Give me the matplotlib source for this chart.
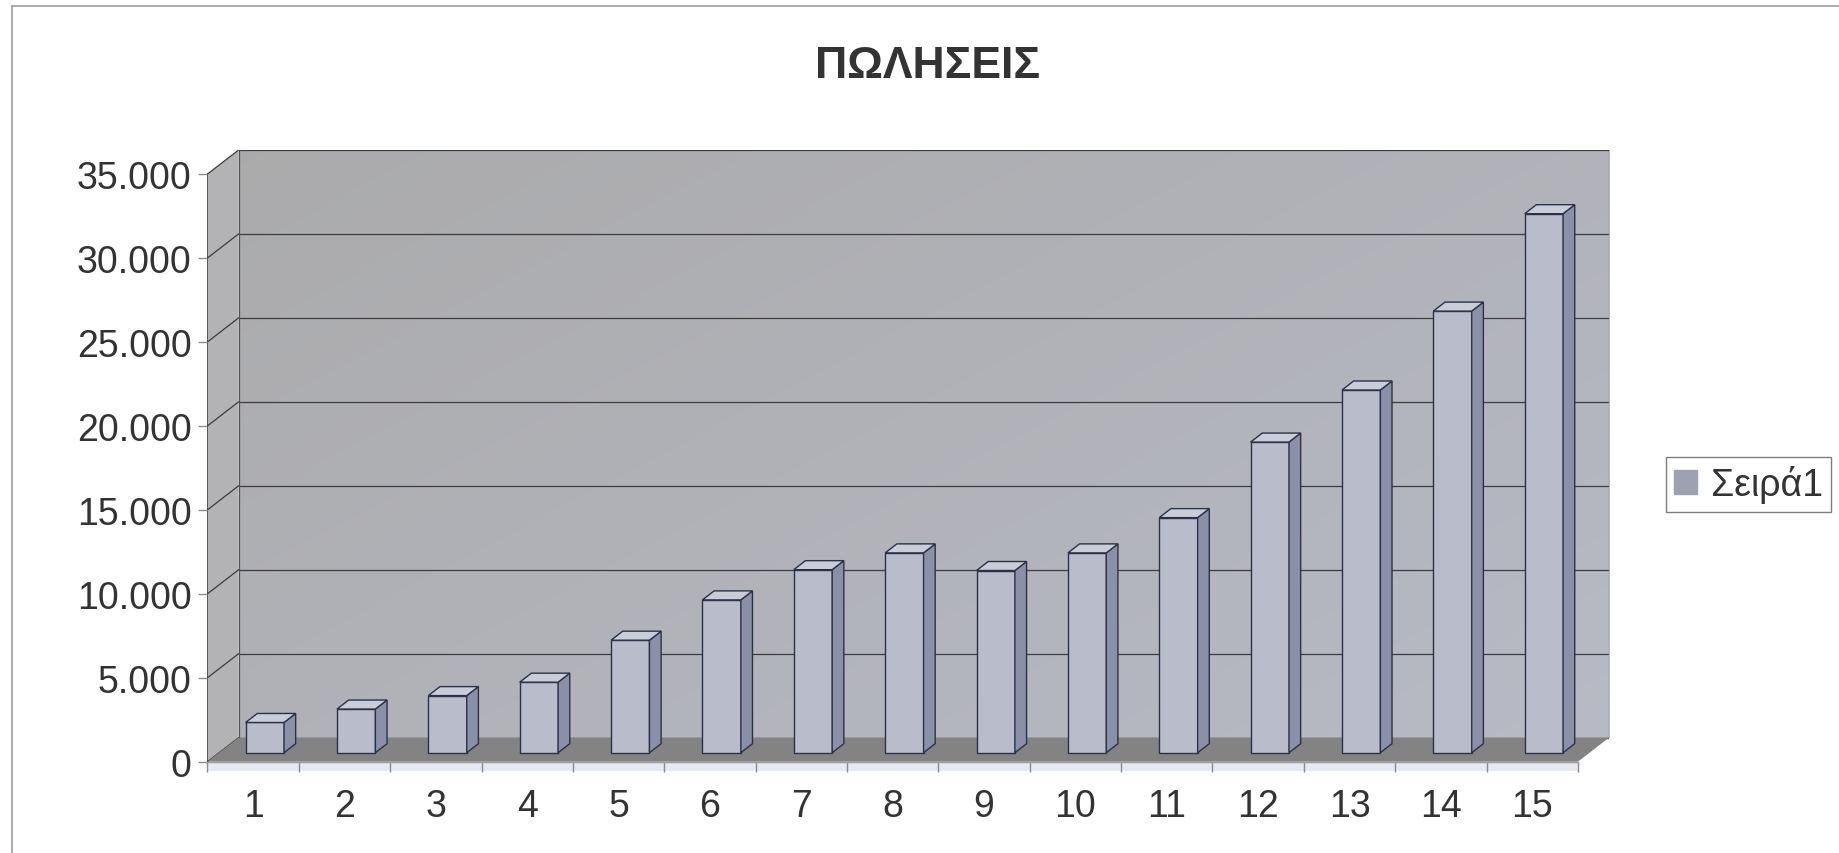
import numpy as np
import matplotlib
matplotlib.use("Agg")
import matplotlib.pyplot as plt
from matplotlib.patches import Polygon, Rectangle, Patch
from matplotlib.lines import Line2D
from matplotlib.ticker import FixedLocator, FuncFormatter, NullFormatter

# ---- data -------------------------------------------------------------
categories = [str(i) for i in range(1, 16)]
sales = [1800, 2600, 3400, 4200, 6700, 9100, 10900, 11900,
         10850, 11900, 14000, 18500, 21600, 26300, 32100]
y_ticks = [0, 5000, 10000, 15000, 20000, 25000, 30000, 35000]
title_text = "ΠΩΛΗΣΕΙΣ"
series_name = "Σειρά1"

# ---- figure -----------------------------------------------------------
W, H = 1840, 854
plt.rcParams["font.family"] = ["Liberation Sans", "DejaVu Sans"]
fig = plt.figure(figsize=(W / 100, H / 100), dpi=100)
fig.patch.set_facecolor("white")

TXT = "#333333"
FS = 27
n = len(categories)
y_max = y_ticks[-1]

# oblique depth of the 3-D box, in data units
DX = 0.34          # along the category axis
DY = 1430.0        # along the value axis
# bars occupy this slice of the depth
D0, D1 = 0.375, 0.75
BAR_W = 0.42

# axes box in pixels (front-left corner at value 0, back-right corner at top)
ax_l, ax_r = 207.5, 1609.0
ax_b, ax_t = 762.7, 151.0
ax = fig.add_axes([ax_l / W, 1 - ax_b / H, (ax_r - ax_l) / W, (ax_b - ax_t) / H])
ax.set_xlim(0, n + DX)
ax.set_ylim(0, y_max + DY)
ax.patch.set_alpha(0)
for s in ax.spines.values():
    s.set_visible(False)

# ---- walls and floor ---------------------------------------------------
# back wall with a soft grey -> blue-grey gradient
gx = np.linspace(0, 1, 200)
gy = np.linspace(0, 1, 200)
GX, GY = np.meshgrid(gx, gy)
t = np.clip(0.55 * GX + 0.45 * (1 - GY), 0, 1)[::-1]
c_top = np.array([0.670, 0.670, 0.675])
c_bot = np.array([0.720, 0.730, 0.772])
img = c_top[None, None, :] * (1 - t[..., None]) + c_bot[None, None, :] * t[..., None]
ax.imshow(img, extent=[DX, n + DX, DY, y_max + DY], origin="upper",
          aspect="auto", zorder=0, interpolation="bilinear")

# side wall
ax.add_patch(Polygon([(0, 0), (DX, DY), (DX, y_max + DY), (0, y_max)],
                     closed=True, facecolor="#b3b3b5", edgecolor="none", zorder=0.5))

# gridlines on back wall + connectors on side wall
for v in y_ticks:
    ax.plot([DX, n + DX], [v + DY, v + DY], color="#3c3c3c", lw=0.9, zorder=1)
    ax.plot([0, DX], [v, v + DY], color="#3c3c3c", lw=0.9, zorder=1)

# wall edges
ax.plot([DX, DX], [DY, y_max + DY], color="#505050", lw=0.9, zorder=1)
ax.plot([n + DX, n + DX], [DY, y_max + DY], color="#8c8c8c", lw=1.0, zorder=1)
ax.plot([0, 0], [0, y_max], color="#3c3c3c", lw=1.2, zorder=1)

# floor
ax.add_patch(Polygon([(0, 0), (n, 0), (n + DX, DY), (DX, DY)], closed=True,
                     facecolor="#838383", edgecolor="none", zorder=1.5))
# thin light strip under the floor edge
band = 9 / (ax_b - ax_t) * (y_max + DY)
ax.add_patch(Rectangle((0, -band), n, band, facecolor="#e6e9f0",
                       edgecolor="none", clip_on=False, zorder=1))
ax.plot([0, n], [0, 0], color="#9a9a9a", lw=1.0, zorder=1.6, clip_on=False)

# ---- bars ----------------------------------------------------------------
FRONT = "#b8bccb"
SIDE = "#8a90a8"
TOP = "#c9cdd9"
EDGE = "#2c3245"

centers = np.arange(n) + 0.5
x_front = centers + D0 * DX
base = D0 * DY
bars = ax.bar(x_front, sales, width=BAR_W, bottom=base, color=FRONT,
              edgecolor=EDGE, linewidth=1.0, zorder=3)
ddx = (D1 - D0) * DX
ddy = (D1 - D0) * DY
for rect, v in zip(bars, sales):
    x0 = rect.get_x()
    x1 = x0 + rect.get_width()
    top = base + v
    # right side face
    ax.add_patch(Polygon([(x1, base), (x1 + ddx, base + ddy),
                          (x1 + ddx, top + ddy), (x1, top)], closed=True,
                         facecolor=SIDE, edgecolor=EDGE, lw=1.0, zorder=3))
    # top face
    ax.add_patch(Polygon([(x0, top), (x1, top), (x1 + ddx, top + ddy),
                          (x0 + ddx, top + ddy)], closed=True,
                         facecolor=TOP, edgecolor=EDGE, lw=1.0, zorder=3))

# ---- axes ticks ------------------------------------------------------------
ax.yaxis.set_major_locator(FixedLocator(y_ticks))
ax.yaxis.set_major_formatter(FuncFormatter(lambda v, p: f"{v:,.0f}".replace(",", ".")))
ax.tick_params(axis="y", which="major", length=6.5, width=1.0, color="#8c8c8c",
               pad=5, labelsize=FS, labelcolor=TXT)

ax.xaxis.set_major_locator(FixedLocator(list(range(n + 1))))
ax.xaxis.set_major_formatter(NullFormatter())
ax.xaxis.set_minor_locator(FixedLocator(list(centers)))
ax.set_xticklabels(categories, minor=True)
ax.tick_params(axis="x", which="major", length=7, width=1.0, color="#8c8c8c")
ax.tick_params(axis="x", which="minor", length=0, pad=19, labelsize=FS,
               labelcolor=TXT)

# ---- title -----------------------------------------------------------------
fig.text(928 / W, 1 - 67 / H, title_text, ha="center", va="center",
         fontsize=32, fontweight="bold", color=TXT)

# ---- legend ----------------------------------------------------------------
leg = fig.legend(handles=[Patch(facecolor="#9da1b1", edgecolor="#9da1b1")],
                 labels=[series_name], loc="upper left",
                 bbox_to_anchor=(1666 / W, 1 - 458 / H),
                 bbox_transform=fig.transFigure, borderaxespad=0,
                 fontsize=FS, frameon=True, fancybox=False,
                 edgecolor="#7f7f7f", framealpha=1, borderpad=0.22,
                 handlelength=0.62, handleheight=0.62, handletextpad=0.35,
                 labelcolor=TXT)
leg.get_frame().set_linewidth(1.0)

# ---- chart area border (top and left edges) -----------------------------
fig.add_artist(Line2D([12 / W, 1], [1 - 7 / H, 1 - 7 / H], transform=fig.transFigure,
                      color="#a0a0a0", lw=1.2))
fig.add_artist(Line2D([12 / W, 12 / W], [0, 1 - 7 / H], transform=fig.transFigure,
                      color="#a0a0a0", lw=1.2))

fig.savefig("out.png", dpi=100, facecolor="white")
